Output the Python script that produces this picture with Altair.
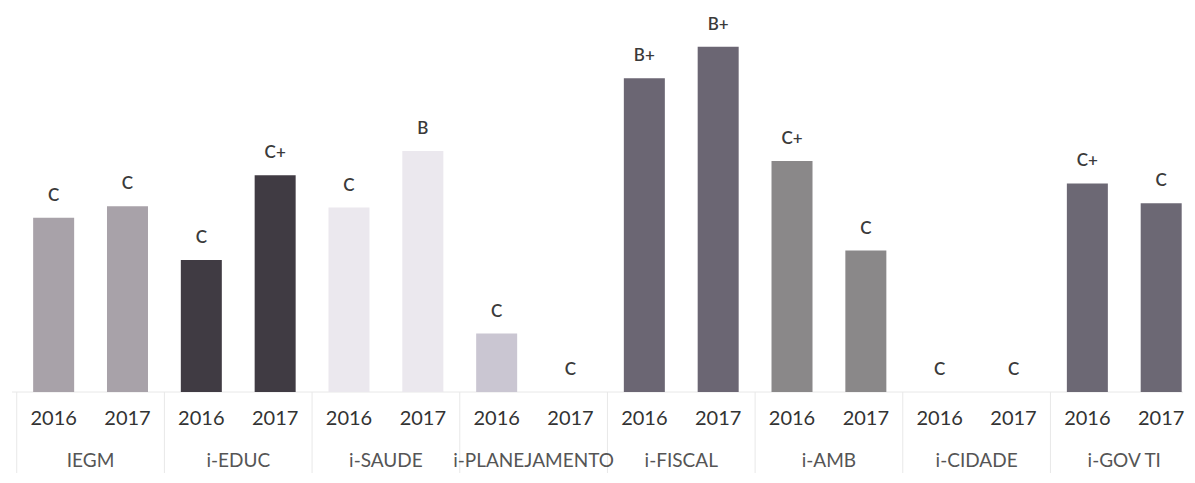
import altair as alt
import pandas as pd

groups = ["IEGM", "i-EDUC", "i-SAUDE", "i-PLANEJAMENTO", "i-FISCAL", "i-AMB", "i-CIDADE", "i-GOV TI"]
years = ["2016", "2017"]
values_2016 = [44.1, 33.4, 46.7, 14.8, 79.4, 58.5, 0, 52.8]
values_2017 = [47.0, 54.9, 61.0, 0, 87.4, 35.8, 0, 47.8]
grades_2016 = ["C", "C", "C", "C", "B+", "C+", "C", "C+"]
grades_2017 = ["C", "C+", "B", "C", "B+", "C", "C", "C"]
group_colors = ["#a8a2a9", "#403b43", "#ebe8ee", "#cac6d2", "#6b6673", "#8a8889", "#9a9a9a", "#6c6874"]

rows = []
for i, g in enumerate(groups):
    for j, (yr, vals, grs) in enumerate([(years[0], values_2016, grades_2016), (years[1], values_2017, grades_2017)]):
        rows.append({"group": g, "year": yr, "slot": 2 * i + j, "value": vals[i], "grade": grs[i], "zero": 0})
df = pd.DataFrame(rows)

glab = pd.DataFrame({"group": groups, "center": [2 * i + 0.5 for i in range(len(groups))]})
seps = pd.DataFrame({"pos": [2 * i - 0.5 for i in range(len(groups))], "zero": [0] * len(groups)})
base = pd.DataFrame({"zero": [0]})

W, H = 1175, 465
step = 74.47
first = 41
ppu = 3.95
base_px = 384
xdom = [-first / step, (W - first) / step]
ydom = [-(H - base_px) / ppu, base_px / ppu]

xs = alt.Scale(domain=xdom, nice=False, zero=False)
ys = alt.Scale(domain=ydom, nice=False, zero=False)

bars = alt.Chart(df).mark_bar(size=41).encode(
    x=alt.X("slot:Q", scale=xs, axis=None),
    y=alt.Y("value:Q", scale=ys, axis=None),
    y2=alt.Y2("zero:Q"),
    color=alt.Color("group:N", scale=alt.Scale(domain=groups, range=group_colors), legend=None),
)

grade_text = alt.Chart(df).mark_text(
    font="Lato", fontSize=17, fontWeight=600, color="#3a3a3a", dy=-22, baseline="middle"
).encode(
    x=alt.X("slot:Q", scale=xs, axis=None),
    y=alt.Y("value:Q", scale=ys, axis=None),
    text="grade:N",
)

year_text = alt.Chart(df).mark_text(
    font="Lato", fontSize=20, color="#333333", baseline="middle"
).encode(
    x=alt.X("slot:Q", scale=xs, axis=None),
    y=alt.value(411),
    text="year:N",
)

group_text = alt.Chart(glab).mark_text(
    font="Lato", fontSize=19, color="#555555", baseline="middle"
).encode(
    x=alt.X("center:Q", scale=xs, axis=None),
    y=alt.value(453),
    text="group:N",
)

sep_rules = alt.Chart(seps).mark_rule(color="#e8e8e8", strokeWidth=1).encode(
    x=alt.X("pos:Q", scale=xs, axis=None),
    y=alt.Y("zero:Q", scale=ys, axis=None),
    y2=alt.value(H),
)

base_rule = alt.Chart(base).mark_rule(color="#e8e8e8", strokeWidth=1).encode(
    x=alt.value(4),
    x2=alt.value(W),
    y=alt.Y("zero:Q", scale=ys, axis=None),
)

chart = alt.layer(base_rule, sep_rules, bars, grade_text, year_text, group_text).properties(
    width=W, height=H, padding=0, background="white"
).configure_view(strokeWidth=0, stroke=None)

chart.save("out.html", embed_options={"renderer": "svg", "actions": False})
